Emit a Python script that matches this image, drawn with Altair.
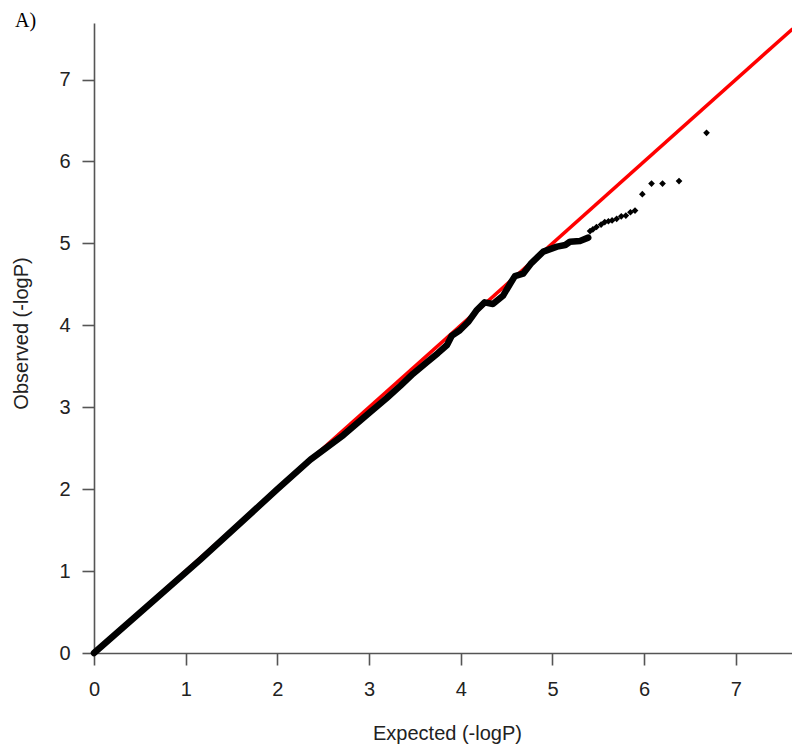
import altair as alt
import pandas as pd

# Dense band of the QQ plot (expected, observed), read along its centre
band_expected = [0.0, 1.16, 2.0, 2.36, 2.72, 3.0, 3.19, 3.34, 3.48, 3.63, 3.75, 3.85, 3.90,
                 3.99, 4.08, 4.17, 4.26, 4.35, 4.46, 4.54, 4.59, 4.68, 4.77, 4.90, 5.05,
                 5.14, 5.19, 5.30, 5.39]
band_observed = [0.0, 1.14, 2.0, 2.36, 2.66, 2.93, 3.11, 3.26, 3.41, 3.55, 3.66, 3.76, 3.87,
                 3.94, 4.04, 4.18, 4.28, 4.26, 4.36, 4.51, 4.60, 4.63, 4.76, 4.90, 4.96,
                 4.98, 5.02, 5.03, 5.07]

# Individual tail points
tail_expected = [5.41, 5.44, 5.48, 5.53, 5.57, 5.61, 5.65, 5.70, 5.75, 5.80, 5.85, 5.90,
                 5.98, 6.08, 6.20, 6.38, 6.68]
tail_observed = [5.15, 5.17, 5.20, 5.23, 5.26, 5.27, 5.28, 5.30, 5.33, 5.34, 5.38, 5.40,
                 5.60, 5.73, 5.73, 5.76, 6.35]

# Reference line y = x
ref_expected = [0.0, 7.62]
ref_observed = [0.0, 7.62]

tick_values = [0, 1, 2, 3, 4, 5, 6, 7]
panel_label = ["A)"]

band_df = pd.DataFrame({"expected": band_expected, "observed": band_observed})
tail_df = pd.DataFrame({"expected": tail_expected, "observed": tail_observed})
ref_df = pd.DataFrame({"expected": ref_expected, "observed": ref_observed})
label_df = pd.DataFrame({"label": panel_label})

FONT = "Liberation Sans"
AX = "#555555"

x_enc = alt.X(
    "expected:Q",
    scale=alt.Scale(domain=[0, 7.612], nice=False, zero=False),
    axis=alt.Axis(
        values=tick_values, format="d", grid=False, tickSize=12, labelPadding=14,
        domainColor=AX, tickColor=AX, domainWidth=1.6, tickWidth=1.6,
        labelFont=FONT, labelFontSize=20, labelColor="#222222", labelFlush=False,
        labelBaseline="top",
        title="Expected (-logP)", titleFont=FONT, titleFontSize=20,
        titleFontWeight="normal", titleColor="#222222", titleY=86, titleX=353,
        titleBaseline="alphabetic",
    ),
)
y_enc = alt.Y(
    "observed:Q",
    scale=alt.Scale(domain=[0, 7.69], nice=False, zero=False),
    axis=alt.Axis(
        values=tick_values, format="d", grid=False, tickSize=12, labelPadding=12,
        domainColor=AX, tickColor=AX, domainWidth=1.6, tickWidth=1.6,
        labelFont=FONT, labelFontSize=20, labelColor="#222222", labelFlush=False,
        title="Observed (-logP)", titleFont=FONT, titleFontSize=20,
        titleFontWeight="normal", titleColor="#222222", titleX=-67, titleY=310,
        titleAlign="center", titleBaseline="alphabetic",
    ),
)

ref = alt.Chart(ref_df).mark_line(color="#ff0000", strokeWidth=3.5).encode(x=x_enc, y=y_enc)
band = alt.Chart(band_df).mark_line(
    color="black", strokeWidth=6.5, strokeCap="round", strokeJoin="round"
).encode(x=x_enc, y=y_enc)
tail = alt.Chart(tail_df).mark_point(
    shape="diamond", filled=True, size=45, color="black", opacity=1
).encode(x=x_enc, y=y_enc)
panel = alt.Chart(label_df).mark_text(
    font="Liberation Serif", fontSize=20, color="black", align="left",
    baseline="alphabetic",
).encode(text="label:N", x=alt.value(-79), y=alt.value(4))

chart = alt.layer(ref, band, tail, panel).properties(
    width=698,
    height=630,
    autosize=alt.AutoSizeParams(type="none"),
    padding={"left": 86, "top": 15, "right": 0, "bottom": 91},
    background="white",
).configure_view(stroke=None)

chart.save("out.html", embed_options={"renderer": "svg", "actions": False})
